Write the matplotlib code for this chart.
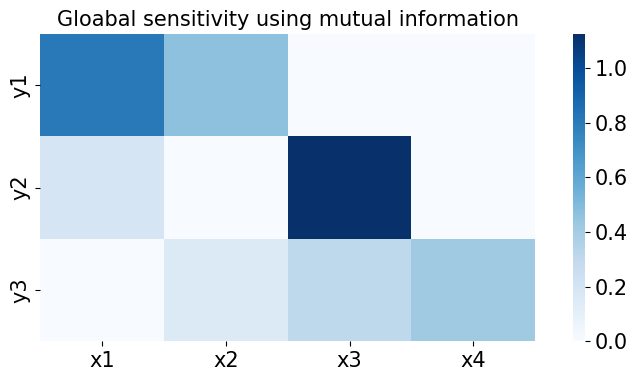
import numpy as np
import pandas as pd
import seaborn as sns
import matplotlib
matplotlib.use('Agg')
import matplotlib.pyplot as plt

outputs = ['y1', 'y2', 'y3']
inputs = ['x1', 'x2', 'x3', 'x4']

# mutual information per output (rows) and input (cols)
mi_y1 = [0.81, 0.47, 0.0, 0.0]
mi_y2 = [0.19, 0.0, 1.125, 0.0]
mi_y3 = [0.0, 0.15, 0.31, 0.42]

df = pd.DataFrame([mi_y1, mi_y2, mi_y3], index=outputs, columns=inputs)

plt.rcParams['font.size'] = 15
fig = plt.figure(figsize=(6.35, 3.82), dpi=100)
ax = fig.add_axes([0.063, 0.107, 0.78, 0.804])
cax = fig.add_axes([0.902, 0.107, 0.019, 0.804])
sns.heatmap(df, cmap='Blues', vmin=0, ax=ax, cbar_ax=cax)
ax.set_title('Gloabal sensitivity using mutual information', fontsize=15)
plt.savefig('out.png', dpi=100)
